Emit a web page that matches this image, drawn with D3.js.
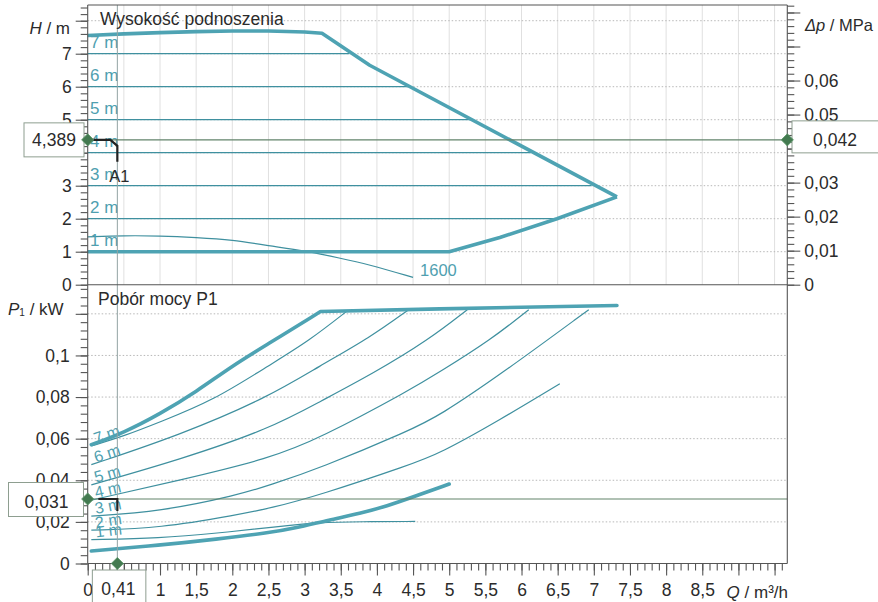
<!DOCTYPE html>
<html><head><meta charset="utf-8">
<script src="https://cdn.jsdelivr.net/npm/d3@7"></script>
<style>
body{margin:0;background:#fff}
svg{display:block}
text{font-family:"Liberation Sans",Arial,Helvetica,sans-serif}
</style>
</head><body>
<svg id="c" width="878" height="602"></svg>
<script>
// ---------------- data ----------------
const qMajorTicks = [0,0.5,1,1.5,2,2.5,3,3.5,4,4.5,5,5.5,6,6.5,7,7.5,8,8.5,9,9.5];
const qTickLabels = ["0","","1","1,5","2","2,5","3","3,5","4","4,5","5","5,5","6","6,5","7","7,5","8","8,5","",""];
const hMajorTicks = [0,1,2,3,4,5,6,7,8];
const hTickLabels = ["0","1","2","3","","5","6","7",""];
const dpMajorTicks = [0,0.01,0.02,0.03,0.04,0.05,0.06,0.07,0.08];
const dpTickLabels = ["0","0,01","0,02","0,03","","0,05","0,06","",""];
const pMajorTicks = [0,0.02,0.04,0.06,0.08,0.1,0.12];
const pTickLabels = ["0","0,02","0,04","0,06","0,08","0,1",""];

// head curves  [Q m3/h, H m]
const hMaxCurve = [[0,7.55],[0.5,7.6],[1,7.64],[1.5,7.67],[2,7.69],[2.5,7.69],[3,7.66],[3.24,7.62],[3.9,6.65],[7.32,2.66]];
const hMinCurve = [[0,1.0],[5.0,1.0],[5.7,1.43],[6.49,2.0],[7.32,2.66]];
const hSpeed1600 = [[0,1.45],[0.5,1.49],[1,1.48],[1.5,1.43],[2,1.36],[2.5,1.18],[3,1.03],[3.5,0.8],[3.86,0.63],[4.5,0.22]];
const constHeads = [7,6,5,4,3,2];
const constHeadEndQ = [3.62,4.45,5.3,6.13,6.97,6.49];
const headLabels = ["7 m","6 m","5 m","4 m","3 m","2 m","1 m"];
const headLabelValues = [7,6,5,4,3,2,1];

// power curves [Q m3/h, P1 kW]
const pMaxCurve = [[0.05,0.0571],[0.5,0.0629],[1,0.0719],[1.5,0.0825],[2,0.095],[2.5,0.1056],[3.22,0.1211],[4.87,0.1224],[7.32,0.124]];
const pMinCurve = [[0.05,0.006],[1,0.0088],[1.78,0.0117],[2.52,0.0148],[2.84,0.0168],[3.35,0.021],[3.77,0.0241],[4.13,0.0275],[4.55,0.0326],[5.0,0.0382]];
const p7m = [[0.05,0.0565],[0.5,0.0612],[1.0,0.068],[1.74,0.0784],[2.52,0.0955],[3.06,0.107],[3.6,0.1217]];
const p6m = [[0.05,0.0475],[1.28,0.0618],[2.5,0.08],[3.21,0.095],[3.9,0.1085],[4.44,0.122]];
const p5m = [[0.05,0.0378],[1.28,0.05],[2.52,0.0648],[3.21,0.0778],[3.95,0.0914],[4.71,0.1074],[5.25,0.122]];
const p4m = [[0.05,0.0305],[1.28,0.0401],[2.52,0.0505],[3.21,0.0602],[4.46,0.0834],[4.87,0.0921],[5.57,0.1074],[6.1,0.122]];
const p3m = [[0.05,0.0228],[1,0.0249],[2.08,0.0329],[2.52,0.0377],[3.21,0.0458],[4.46,0.064],[4.87,0.0712],[5.7,0.0906],[6.93,0.122]];
const p2m = [[0.05,0.016],[1,0.017],[2.08,0.0235],[2.52,0.0265],[3.21,0.0329],[4.46,0.0475],[4.87,0.0529],[5.7,0.069],[6.53,0.0864]];
const p1m = [[0.05,0.0115],[1,0.0122],[1.78,0.0145],[2.61,0.0177],[3.2,0.0198],[3.8,0.0201],[4.53,0.0202]];
const powerCurves = [p7m,p6m,p5m,p4m,p3m,p2m,p1m];

// operating point A1
const opQ = 0.41, opH = 4.389, opDp = 0.042, opP = 0.031;
const opLabels = {q:"0,41", h:"4,389", dp:"0,042", p:"0,031"};

// ---------------- scales ----------------
const qMax = 9.676, hTop = 8.476, dpTop = 0.0822, pTop = 0.134;
const x = d3.scaleLinear().domain([0,qMax]).range([87.7,787.3]);
const yH = d3.scaleLinear().domain([0,hTop]).range([284.7,5]);
const yDp = d3.scaleLinear().domain([0,dpTop]).range([284.7,5]);
const yP = d3.scaleLinear().domain([0,pTop]).range([563.5,284.7]);

const THICK = "#4ea3b3", THIN = "#3f909f", LABEL = "#4f9fb0", MARK = "#62836b", FRAME = "#555", TXT = "#2b2b2b";
const svg = d3.select("#c");

// ---------------- grid ----------------
const grid = svg.append("g");
grid.selectAll("line.vg").data(qMajorTicks.filter(q => q > 0)).join("line")
  .attr("x1", d => x(d)).attr("x2", d => x(d)).attr("y1", yH(0)).attr("y2", yH(hTop))
  .attr("stroke", "#e0e0e0").attr("stroke-width", 1);
grid.selectAll("line.hg").data(hMajorTicks.filter(h => h > 0)).join("line")
  .attr("x1", x(0)).attr("x2", x(qMax)).attr("y1", d => yH(d)).attr("y2", d => yH(d))
  .attr("stroke", "#b8b8b8").attr("stroke-width", 1).attr("stroke-dasharray", "1.5,2");
grid.selectAll("line.pg").data(pMajorTicks.filter(p => p > 0)).join("line")
  .attr("x1", x(0)).attr("x2", x(qMax)).attr("y1", d => yP(d)).attr("y2", d => yP(d))
  .attr("stroke", "#b8b8b8").attr("stroke-width", 1).attr("stroke-dasharray", "1.5,2");

// ---------------- top chart curves ----------------
const lineH = d3.line().x(d => x(d[0])).y(d => yH(d[1]));
const lineHs = d3.line().x(d => x(d[0])).y(d => yH(d[1])).curve(d3.curveBasis);
const lineP = d3.line().x(d => x(d[0])).y(d => yP(d[1]));
const linePs = d3.line().x(d => x(d[0])).y(d => yP(d[1])).curve(d3.curveBasis);

const gTop = svg.append("g");
gTop.selectAll("path.ch").data(constHeads.map((h, i) => [[0, h], [constHeadEndQ[i], h]])).join("path")
  .attr("d", lineH).attr("fill", "none").attr("stroke", THIN).attr("stroke-width", 1.3);
gTop.append("path").attr("d", lineHs(hSpeed1600)).attr("fill", "none").attr("stroke", THIN).attr("stroke-width", 1.2);
gTop.append("path").attr("d", lineH(hMinCurve)).attr("fill", "none").attr("stroke", THICK).attr("stroke-width", 3.6).attr("stroke-linejoin", "round");
gTop.append("path").attr("d", lineH(hMaxCurve)).attr("fill", "none").attr("stroke", THICK).attr("stroke-width", 3.6).attr("stroke-linejoin", "round");

gTop.selectAll("text.hl").data(headLabels).join("text")
  .attr("x", 90).attr("y", (d, i) => yH(headLabelValues[i]) - 5.5)
  .attr("font-size", 17).attr("fill", LABEL).text(d => d);
const last1600 = hSpeed1600[hSpeed1600.length - 1];
gTop.append("text").attr("x", x(last1600[0]) + 7).attr("y", yH(last1600[1]) - 1)
  .attr("font-size", 16.5).attr("fill", LABEL).text("1600");

// ---------------- bottom chart curves ----------------
const gBot = svg.append("g");
gBot.selectAll("path.pc").data(powerCurves).join("path")
  .attr("d", linePs).attr("fill", "none").attr("stroke", THIN).attr("stroke-width", 1.2);
gBot.append("path").attr("d", linePs(pMinCurve)).attr("fill", "none").attr("stroke", THICK).attr("stroke-width", 3.6).attr("stroke-linecap", "round");
const kneeIdx = pMaxCurve.findIndex(d => d[0] >= 3.22);
gBot.append("path").attr("d", linePs(pMaxCurve.slice(0, kneeIdx + 1)) + lineP(pMaxCurve.slice(kneeIdx)).replace(/^M/, "L"))
  .attr("fill", "none").attr("stroke", THICK).attr("stroke-width", 3.6).attr("stroke-linejoin", "round").attr("stroke-linecap", "round");

const rot = [-19, -18, -16, -13, -11, -9, -7];
gBot.selectAll("text.pl").data(headLabels).join("text")
  .attr("transform", (d, i) => `translate(96,${yP(powerCurves[i][0][1]) - 2}) rotate(${rot[i]})`)
  .attr("font-size", 16).attr("fill", LABEL).text(d => d);

// ---------------- operating point lines ----------------
const mk = svg.append("g");
mk.append("line").attr("x1", x(opQ)).attr("x2", x(opQ)).attr("y1", yH(hTop)).attr("y2", yP(0))
  .attr("stroke", "#93a3a3").attr("stroke-width", 1);
mk.append("line").attr("x1", x(0)).attr("x2", x(qMax) + 4).attr("y1", yH(opH)).attr("y2", yH(opH))
  .attr("stroke", MARK).attr("stroke-width", 1.2);
mk.append("line").attr("x1", x(0)).attr("x2", x(qMax)).attr("y1", yP(opP)).attr("y2", yP(opP))
  .attr("stroke", MARK).attr("stroke-width", 1.2);
mk.append("path")
  .attr("d", `M${x(0) + 3},${yH(opH)} H${x(opQ) - 7} L${x(opQ)},${yH(opH) + 6} V${yH(opH) + 22}`)
  .attr("fill", "none").attr("stroke", "#222").attr("stroke-width", 2.2);
mk.append("path")
  .attr("d", `M${x(opQ) - 19},${yP(opP)} H${x(opQ)} V${yP(opP) + 12}`)
  .attr("fill", "none").attr("stroke", "#222").attr("stroke-width", 2.2);
mk.append("text").attr("x", x(opQ) - 8).attr("y", yH(opH) + 42).attr("font-size", 16.5).attr("fill", TXT).text("A1");

// ---------------- frame ----------------
const fr = svg.append("g").attr("stroke", FRAME).attr("stroke-width", 1.1).attr("fill", "none");
fr.append("line").attr("x1", x(0)).attr("x2", x(qMax)).attr("y1", yH(hTop)).attr("y2", yH(hTop));
fr.append("line").attr("x1", x(0)).attr("x2", x(qMax)).attr("y1", yH(0)).attr("y2", yH(0));
fr.append("line").attr("x1", x(0)).attr("x2", x(qMax)).attr("y1", yP(0)).attr("y2", yP(0));
fr.append("line").attr("x1", x(0)).attr("x2", x(0)).attr("y1", yH(hTop)).attr("y2", yP(0));
fr.append("line").attr("x1", x(qMax)).attr("x2", x(qMax)).attr("y1", yH(hTop)).attr("y2", yP(0));

// ---------------- axes ----------------
function styleAxis(g) {
  g.select(".domain").remove();
  g.selectAll(".tick line").attr("stroke", FRAME).attr("stroke-width", 1.1);
  g.selectAll(".tick text").attr("fill", TXT).attr("font-size", 17.5)
    .attr("font-family", '"Liberation Sans",Arial,sans-serif');
}
const minor = (a, b, s) => d3.range(Math.round(a / s), Math.round(b / s) + 1).map(k => +(k * s).toFixed(4));

svg.append("g").attr("transform", `translate(${x(0)},0)`)
  .call(d3.axisLeft(yH).tickValues(minor(0, 8.4, 0.2)).tickSize(7).tickFormat("")).call(styleAxis);
svg.append("g").attr("transform", `translate(${x(0)},0)`)
  .call(d3.axisLeft(yH).tickValues(hMajorTicks).tickSize(12).tickPadding(4).tickFormat((d, i) => hTickLabels[i])).call(styleAxis);
svg.append("g").attr("transform", `translate(${x(qMax)},0)`)
  .call(d3.axisRight(yDp).tickValues(minor(0, 0.082, 0.002)).tickSize(7).tickFormat("")).call(styleAxis);
svg.append("g").attr("transform", `translate(${x(qMax)},0)`)
  .call(d3.axisRight(yDp).tickValues(dpMajorTicks).tickSize(13).tickPadding(4).tickFormat((d, i) => dpTickLabels[i])).call(styleAxis);
svg.append("g").attr("transform", `translate(${x(0)},0)`)
  .call(d3.axisLeft(yP).tickValues(minor(0, 0.132, 0.004)).tickSize(7).tickFormat("")).call(styleAxis);
svg.append("g").attr("transform", `translate(${x(0)},0)`)
  .call(d3.axisLeft(yP).tickValues(pMajorTicks).tickSize(12).tickPadding(6).tickFormat((d, i) => pTickLabels[i])).call(styleAxis);
svg.append("g").attr("transform", `translate(0,${yP(0)})`)
  .call(d3.axisBottom(x).tickValues(minor(0, 9.6, 0.1)).tickSize(7).tickFormat("")).call(styleAxis);
svg.append("g").attr("transform", `translate(0,${yP(0)})`)
  .call(d3.axisBottom(x).tickValues(qMajorTicks).tickSize(12).tickPadding(8).tickFormat((d, i) => qTickLabels[i])).call(styleAxis);

// ---------------- titles ----------------
svg.append("text").attr("x", 100).attr("y", 25).attr("font-size", 17.5).attr("fill", TXT).text("Wysokość podnoszenia");
svg.append("text").attr("x", 98).attr("y", 305).attr("font-size", 17.5).attr("fill", TXT).text("Pobór mocy P1");

const tH = svg.append("text").attr("x", 70).attr("y", 34).attr("font-size", 17).attr("fill", TXT).attr("text-anchor", "end");
tH.append("tspan").attr("font-style", "italic").text("H");
tH.append("tspan").text("  / m");

const tDp = svg.append("text").attr("x", 805).attr("y", 31).attr("font-size", 16.5).attr("fill", TXT);
tDp.append("tspan").attr("font-style", "italic").text("Δp");
tDp.append("tspan").text(" / MPa");

const tP = svg.append("text").attr("x", 8).attr("y", 315).attr("font-size", 17).attr("fill", TXT);
tP.append("tspan").attr("font-style", "italic").text("P");
tP.append("tspan").attr("font-size", 10).attr("dy", 1).text("1");
tP.append("tspan").attr("dy", -1).text(" / kW");

const tQ = svg.append("text").attr("x", 788).attr("y", 598).attr("font-size", 17).attr("fill", TXT).attr("text-anchor", "end");
tQ.append("tspan").attr("font-style", "italic").text("Q");
tQ.append("tspan").text(" / m³/h");

// ---------------- value boxes & diamonds ----------------
const bx = svg.append("g");
function box(x0, y0, w, h, label, tx, ty) {
  bx.append("rect").attr("x", x0).attr("y", y0).attr("width", w).attr("height", h)
    .attr("fill", "#fff").attr("stroke", "#8e9e90").attr("stroke-width", 1);
  bx.append("text").attr("x", tx).attr("y", ty).attr("text-anchor", "middle")
    .attr("font-size", 17.5).attr("fill", TXT).text(label);
}
box(24, yH(opH) - 17, 60, 34, opLabels.h, 54, yH(opH) + 6.5);
box(792, yH(opH) - 19, 90, 32, opLabels.dp, 835, yH(opH) + 6.5);
box(8.5, yP(opP) - 16.5, 75, 34, opLabels.p, 46.5, yP(opP) + 8.5);
box(x(opQ) - 25, yP(0) + 6.5, 53.5, 40, opLabels.q, x(opQ) + 1, yP(0) + 31);

const diamond = d3.symbol().type(d3.symbolSquare).size(74);
const diamonds = [[x(0), yH(opH)], [x(qMax), yH(opH)], [x(0), yP(opP)], [x(opQ), yP(0)]];
bx.selectAll("path.dm").data(diamonds).join("path")
  .attr("d", diamond).attr("transform", d => `translate(${d[0]},${d[1]}) rotate(45)`)
  .attr("fill", "#437a50").attr("stroke", "#5f9a6c").attr("stroke-width", 0.8);
</script>
</body></html>
